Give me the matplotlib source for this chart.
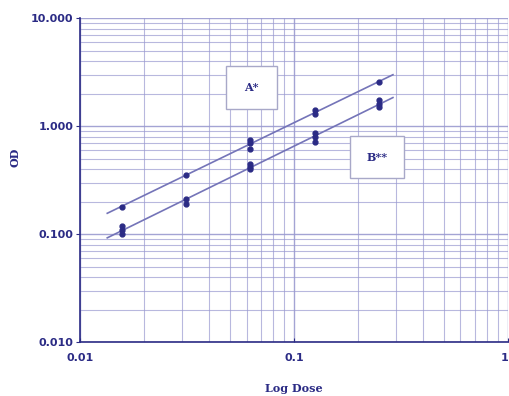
import numpy as np
import matplotlib.pyplot as plt
from matplotlib.patches import Rectangle
from matplotlib.ticker import FixedLocator, FixedFormatter, NullFormatter

# doses (two-fold dilutions)
dose = [0.015625, 0.03125, 0.0625, 0.125, 0.25]

# replicate OD readings per dose
a_x = [0.015625, 0.03125, 0.0625, 0.0625, 0.0625, 0.125, 0.125, 0.25]
a_od = [0.18, 0.35, 0.75, 0.70, 0.62, 1.40, 1.30, 2.55]
b_x = [0.015625, 0.015625, 0.015625, 0.03125, 0.03125,
       0.0625, 0.0625, 0.0625, 0.125, 0.125, 0.125, 0.25, 0.25, 0.25]
b_od = [0.12, 0.11, 0.10, 0.21, 0.19,
        0.45, 0.42, 0.40, 0.87, 0.80, 0.72, 1.74, 1.62, 1.50]

fit_range = [0.0134, 0.29]

navy = '#2b2b85'
gridc = '#9a9ad0'
linec = '#7474b8'

fig = plt.figure(figsize=(5.1, 3.96), dpi=100)
ax = fig.add_axes([0.157, 0.136, 0.839, 0.818])

ax.set_xscale('log')
ax.set_yscale('log')
ax.set_xlim(0.01, 1)
ax.set_ylim(0.01, 10)

# log-log regression lines
xs = np.array(fit_range)
for xv, yv in [(a_x, a_od), (b_x, b_od)]:
    k, c = np.polyfit(np.log10(xv), np.log10(yv), 1)
    ax.plot(xs, 10 ** (c + k * np.log10(xs)), color=linec, lw=1.2, zorder=3)

ax.plot(a_x, a_od, 'o', color=navy, ms=3.5, zorder=4)
ax.plot(b_x, b_od, 'o', color=navy, ms=3.5, zorder=4)

ax.grid(which='major', color=gridc, lw=1.0, alpha=0.9)
ax.grid(which='minor', color=gridc, lw=0.8, alpha=0.7)
ax.set_axisbelow(True)

for s in ['top', 'right']:
    ax.spines[s].set_visible(False)
for s in ['left', 'bottom']:
    ax.spines[s].set_color(navy)
    ax.spines[s].set_linewidth(1.2)

ax.yaxis.set_major_locator(FixedLocator([0.01, 0.1, 1, 10]))
ax.yaxis.set_major_formatter(FixedFormatter(['0.010', '0.100', '1.000', '10.000']))
ax.xaxis.set_major_locator(FixedLocator([0.01, 0.1, 1]))
ax.xaxis.set_major_formatter(FixedFormatter(['0.01', '0.1', '1']))
ax.xaxis.set_minor_formatter(NullFormatter())
ax.yaxis.set_minor_formatter(NullFormatter())
ax.tick_params(which='minor', length=0)
ax.tick_params(axis='y', which='major', length=3, color=navy, labelcolor=navy,
               labelsize=8, pad=2)
ax.tick_params(axis='x', which='major', length=3, direction='in', color=navy,
               labelcolor=navy, labelsize=8, pad=8)
for lab in ax.get_xticklabels() + ax.get_yticklabels():
    lab.set_fontweight('bold')
ax.get_xticklabels()[-1].set_horizontalalignment('right')

ax.set_xlabel('Log Dose', fontsize=8, fontweight='bold', family='serif', color=navy)
ax.xaxis.set_label_coords(0.5, -0.125)
ax.set_ylabel('OD', fontsize=8, fontweight='bold', family='serif', color=navy)
ax.yaxis.set_label_coords(-0.14, 0.57)

# label boxes
for (x0, y0, w, h, txt) in [(0.341, 0.719, 0.119, 0.133, 'A*'),
                            (0.631, 0.506, 0.126, 0.130, 'B**')]:
    ax.add_patch(Rectangle((x0, y0), w, h, transform=ax.transAxes,
                           facecolor='white', edgecolor='#a8a8c8', lw=1.0, zorder=5))
    ax.text(x0 + w / 2, y0 + h / 2, txt, transform=ax.transAxes, ha='center',
            va='center', fontsize=8, fontweight='bold', family='serif',
            color=navy, zorder=6)

fig.savefig('out.png', dpi=100)
